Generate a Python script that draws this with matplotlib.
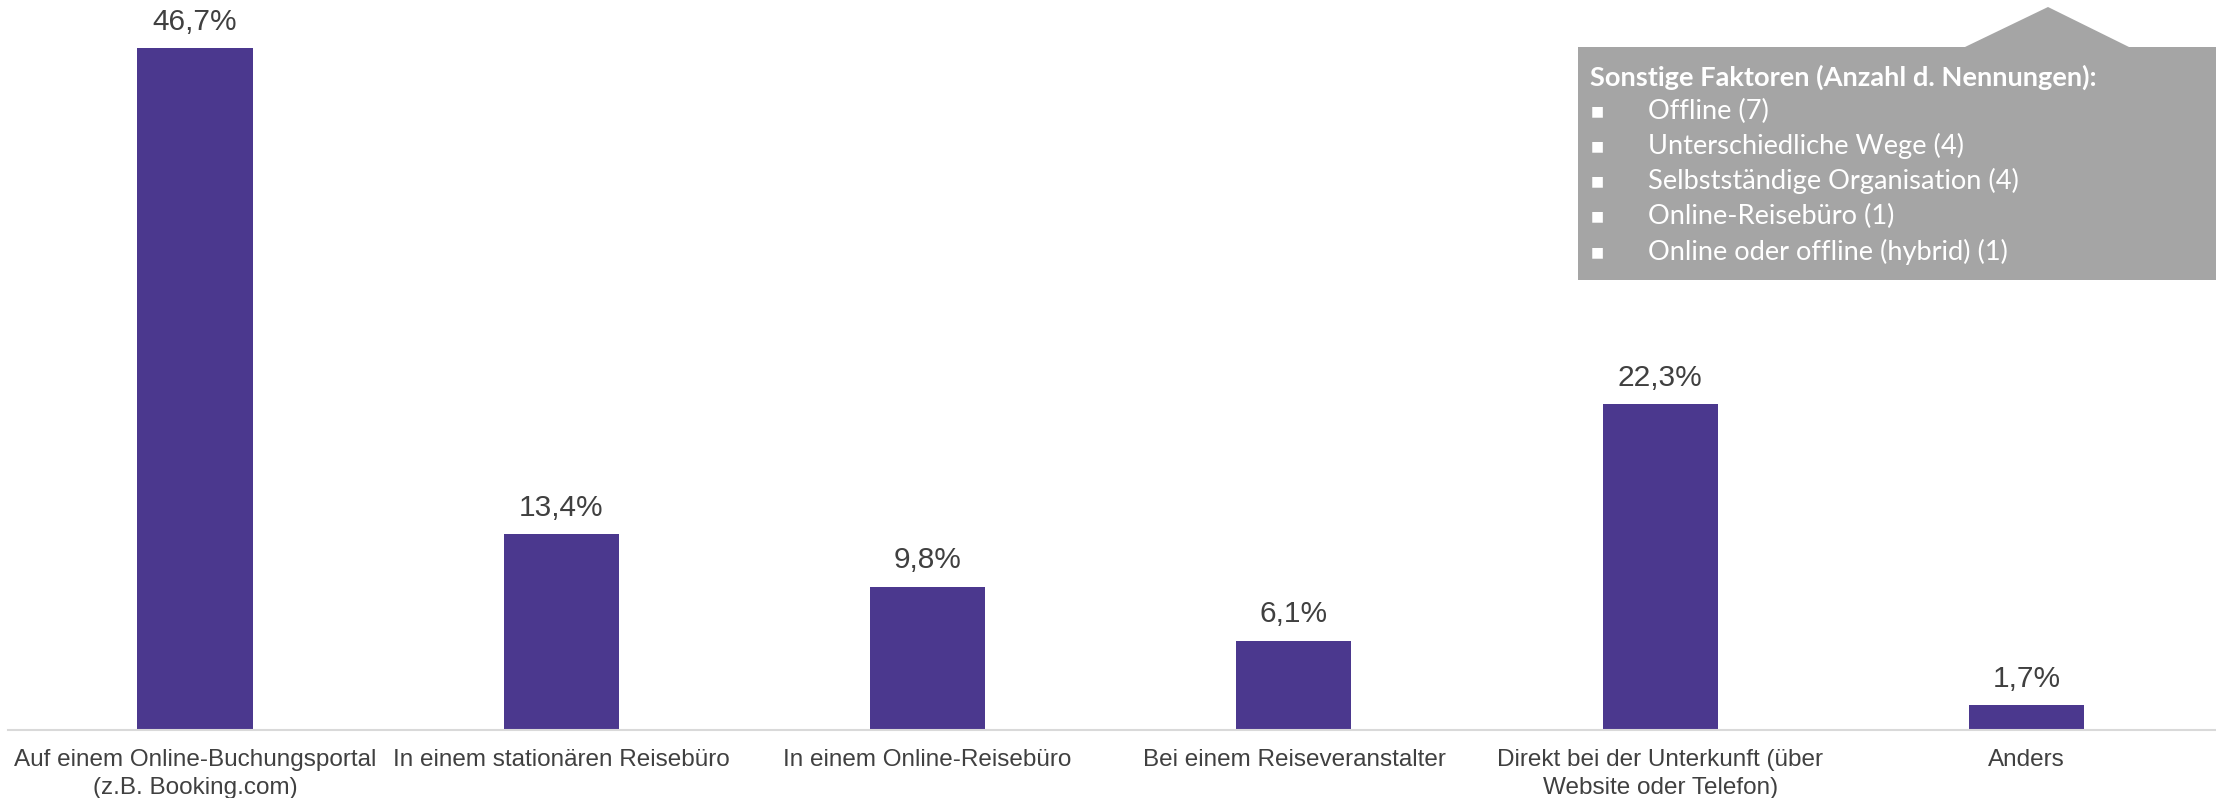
import matplotlib
matplotlib.use('Agg')
import matplotlib.pyplot as plt
from matplotlib.patches import Polygon

matplotlib.rcParams['font.family'] = ['Liberation Sans', 'DejaVu Sans']

# booking channels and share of answers (%)
categories = ['Auf einem Online-Buchungsportal\n(z.B. Booking.com)',
              'In einem stationären Reisebüro',
              'In einem Online-Reisebüro',
              'Bei einem Reiseveranstalter',
              'Direkt bei der Unterkunft (über\nWebsite oder Telefon)',
              'Anders']
shares = [46.7, 13.4, 9.8, 6.1, 22.3, 1.7]

other_title = 'Sonstige Faktoren (Anzahl d. Nennungen):'
other_items = ['Offline (7)',
               'Unterschiedliche Wege (4)',
               'Selbstständige Organisation (4)',
               'Online-Reisebüro (1)',
               'Online oder offline (hybrid) (1)']

W, H = 2216, 798
fig = plt.figure(figsize=(W / 100, H / 100), dpi=100)
ax = fig.add_axes([8 / W, 68 / H, 1 - 8 / W, 1 - 68 / H])

x = range(len(categories))
ax.bar(x, shares, width=0.314, color='#4B388E', zorder=2)
for xi, v in zip(x, shares):
    ax.annotate('{:.1f}%'.format(v).replace('.', ','), (xi, v), xytext=(0, 9),
                textcoords='offset points', ha='center', va='bottom',
                fontsize=21.5, color='#404040')

ax.set_xlim(-0.5105, 5.517)
ax.set_ylim(0, 50)
ax.set_xticks(list(x))
ax.set_xticklabels(categories, fontsize=17.5, color='#404040', linespacing=1.35)
ax.tick_params(axis='x', length=0, pad=14)
ax.set_yticks([])
for s in ['top', 'right', 'left']:
    ax.spines[s].set_visible(False)
ax.spines['bottom'].set_color('#D9D9D9')
ax.spines['bottom'].set_linewidth(1.5)


def px(xp, yp):
    return (xp / W, 1 - yp / H)


# callout box with the free-text answers
shape = [px(1578, 280), px(1578, 47), px(1965, 47), px(2048, 7),
         px(2129, 47), px(2216, 47), px(2216, 280)]
fig.patches.append(Polygon(shape, closed=True, transform=fig.transFigure,
                           facecolor='#A5A5A5', edgecolor='none', zorder=3))
cfont = ['Lato', 'DejaVu Sans']
fig.text(*px(1590, 77), other_title, family=cfont, fontweight='bold',
         fontsize=19.6, color='white', va='center', ha='left', zorder=4)
for i, item in enumerate(other_items):
    y = 111 + i * 35.2
    fig.text(*px(1597, y), '\u25a0', family=['DejaVu Sans'], fontsize=10,
             color='white', va='center', ha='center', zorder=4)
    fig.text(*px(1648, y), item, family=cfont, fontsize=19.6,
             color='white', va='center', ha='left', zorder=4)

fig.savefig('out.png', dpi=100)
